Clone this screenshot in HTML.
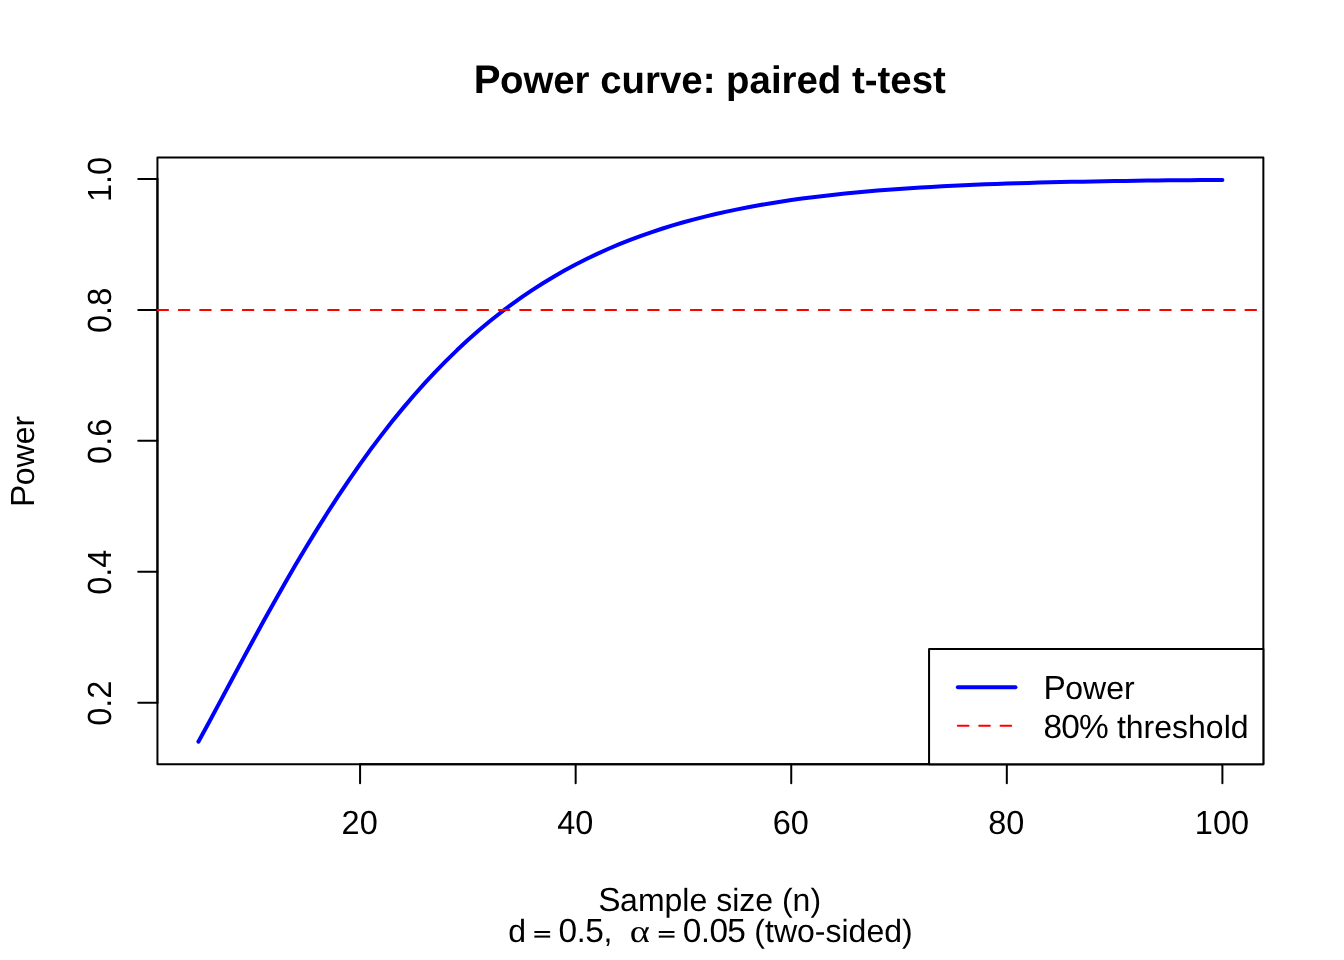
<!DOCTYPE html>
<html lang="en"><head><meta charset="utf-8"><title>Power curve: paired t-test</title>
<style>html,body{margin:0;padding:0;background:#fff;}body{width:1344px;height:960px;overflow:hidden;}svg{display:block;}text{font-family:"Liberation Sans",Arial,Helvetica,sans-serif;fill:#000;text-rendering:geometricPrecision;}.sym{font-family:"Liberation Serif","DejaVu Serif",serif;}</style></head><body>
<svg width="1344" height="960" viewBox="0 0 1344 960" xml:space="preserve">
<rect x="0" y="0" width="1344" height="960" fill="#ffffff"/>
<polyline points="198.400,741.689 209.179,721.924 219.958,701.877 230.737,681.746 241.516,661.668 252.295,641.746 263.074,622.065 273.853,602.695 284.632,583.693 295.411,565.108 306.189,546.980 316.968,529.341 327.747,512.217 338.526,495.628 349.305,479.590 360.084,464.112 370.863,449.201 381.642,434.860 392.421,421.089 403.200,407.883 413.979,395.237 424.758,383.144 435.537,371.593 446.316,360.573 457.095,350.072 467.874,340.076 478.653,330.570 489.432,321.541 500.211,312.971 510.989,304.845 521.768,297.148 532.547,289.861 543.326,282.970 554.105,276.457 564.884,270.307 575.663,264.504 586.442,259.031 597.221,253.875 608.000,249.019 618.779,244.449 629.558,240.151 640.337,236.112 651.116,232.317 661.895,228.755 672.674,225.412 683.453,222.277 694.232,219.339 705.011,216.586 715.789,214.008 726.568,211.596 737.347,209.340 748.126,207.230 758.905,205.258 769.684,203.415 780.463,201.695 791.242,200.089 802.021,198.591 812.800,197.194 823.579,195.891 834.358,194.677 845.137,193.546 855.916,192.493 866.695,191.512 877.474,190.600 888.253,189.751 899.032,188.962 909.811,188.228 920.589,187.546 931.368,186.913 942.147,186.325 952.926,185.778 963.705,185.271 974.484,184.801 985.263,184.364 996.042,183.960 1006.821,183.585 1017.600,183.237 1028.379,182.915 1039.158,182.616 1049.937,182.340 1060.716,182.084 1071.495,181.847 1082.274,181.627 1093.053,181.425 1103.832,181.237 1114.611,181.063 1125.389,180.903 1136.168,180.755 1146.947,180.618 1157.726,180.491 1168.505,180.374 1179.284,180.266 1190.063,180.166 1200.842,180.074 1211.621,179.989 1222.400,179.911" fill="none" stroke="#0000ff" stroke-width="4" stroke-linecap="round" stroke-linejoin="round"/>
<g stroke="#000" stroke-width="2.0" fill="none" stroke-linecap="round" stroke-linejoin="round">
<rect x="157.44" y="157.44" width="1105.92" height="606.72"/>
<path d="M360.08 764.16H1222.40"/>
<path d="M360.08 764.16v19.20"/>
<path d="M575.66 764.16v19.20"/>
<path d="M791.24 764.16v19.20"/>
<path d="M1006.82 764.16v19.20"/>
<path d="M1222.40 764.16v19.20"/>
<path d="M157.44 702.75V179.00"/>
<path d="M157.44 702.75h-19.20"/>
<path d="M157.44 571.81h-19.20"/>
<path d="M157.44 440.87h-19.20"/>
<path d="M157.44 309.94h-19.20"/>
<path d="M157.44 179.00h-19.20"/>
</g>
<text transform="translate(359.63 834.18) scale(1.015 1.045)" font-size="32" text-anchor="middle">20</text>
<text transform="translate(575.21 834.18) scale(1.015 1.045)" font-size="32" text-anchor="middle">40</text>
<text transform="translate(790.79 834.18) scale(1.015 1.045)" font-size="32" text-anchor="middle">60</text>
<text transform="translate(1006.37 834.18) scale(1.015 1.045)" font-size="32" text-anchor="middle">80</text>
<text transform="translate(1221.95 834.18) scale(1.015 1.045)" font-size="32" text-anchor="middle">100</text>
<text transform="translate(110.86 703.20) rotate(-90) scale(1.015 1.045)" font-size="32" text-anchor="middle">0.2</text>
<text transform="translate(110.86 572.26) rotate(-90) scale(1.015 1.045)" font-size="32" text-anchor="middle">0.4</text>
<text transform="translate(110.86 441.32) rotate(-90) scale(1.015 1.045)" font-size="32" text-anchor="middle">0.6</text>
<text transform="translate(110.86 310.39) rotate(-90) scale(1.015 1.045)" font-size="32" text-anchor="middle">0.8</text>
<text transform="translate(110.86 179.45) rotate(-90) scale(1.015 1.045)" font-size="32" text-anchor="middle">1.0</text>
<text y="93.0" font-size="38.4" font-weight="bold"><tspan x="473.77" font-size="40.13">P</tspan><tspan x="499.94">ower curve: paired t-test</tspan></text>
<text y="910.68" font-size="32"><tspan x="598.27" font-size="33.44">S</tspan><tspan x="620.10">ample size (n)</tspan></text>
<text transform="translate(34.06 461.20) rotate(-90)" y="0" font-size="32"><tspan x="-45.83" font-size="33.44">P</tspan><tspan x="-24.01">ower</tspan></text>
<text y="941.8" font-size="32"><tspan x="508.20">d</tspan></text>
<text transform="translate(533.60 940.4) scale(0.943 0.54)" font-size="32" font-weight="bold" stroke="#000" stroke-width="0.5">=</text>
<text y="941.8" font-size="32"><tspan x="558.50" font-size="33.44">0</tspan><tspan x="576.70">.</tspan><tspan x="585.19" font-size="33.44">5</tspan><tspan x="603.38">,</tspan></text>
<text class="sym" transform="translate(629.8 941.8) scale(1.2 1)" font-size="32">α</text>
<text transform="translate(657.70 940.4) scale(0.943 0.54)" font-size="32" font-weight="bold" stroke="#000" stroke-width="0.5">=</text>
<text y="941.8" font-size="32"><tspan x="682.80" font-size="33.44">0</tspan><tspan x="701.00">.</tspan><tspan x="709.49 727.28" font-size="33.44">05</tspan><tspan x="745.48"> (two-sided)</tspan></text>
<path d="M157.44 309.94H1263.36" stroke="#ff0000" stroke-width="2.0" stroke-dasharray="10.667 10.667" stroke-linecap="round" fill="none"/>
<rect x="929.06" y="648.96" width="334.30" height="115.20" fill="#fff" stroke="#000" stroke-width="2.0" stroke-linejoin="round"/>
<path d="M957.86 687.36h57.60" stroke="#0000ff" stroke-width="4" stroke-linecap="round"/>
<path d="M957.86 725.76h57.60" stroke="#ff0000" stroke-width="2.0" stroke-dasharray="10.667 10.667" stroke-linecap="round"/>
<text y="698.56" font-size="32"><tspan x="1043.48" font-size="33.44">P</tspan><tspan x="1065.30">ower</tspan></text>
<text y="738.16" font-size="32"><tspan x="1043.56 1061.36 1078.91" font-size="33.44">80%</tspan><tspan x="1108.01"> threshold</tspan></text>
</svg></body></html>
